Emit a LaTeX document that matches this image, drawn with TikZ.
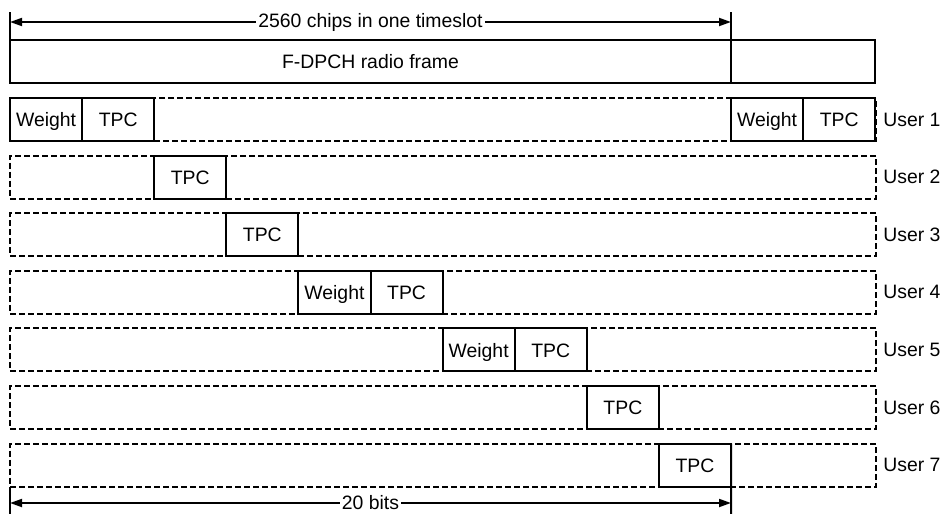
\documentclass[tikz,border=0pt]{standalone}
\usepackage{fontspec}
\setmainfont{Liberation Sans}
\usetikzlibrary{arrows.meta,positioning}
\newcommand{\dpchfont}{\fontsize{9.7}{11.6}\selectfont}
\tikzset{
  slotbox/.style={draw, line width=1pt, fill=white, outer sep=0pt, inner sep=0pt,
                  minimum width=36.05pt, minimum height=21.5pt, font=\dpchfont,
                  text height=0.72em, text depth=0pt},
  userrow/.style={draw, line width=1pt, dash pattern=on 3pt off 1.5pt, outer sep=0pt,
                  inner sep=0pt, minimum width=433pt, minimum height=21.5pt},
  framebox/.style={draw, line width=1pt, outer sep=0pt, inner sep=0pt,
                   minimum height=21.5pt, font=\dpchfont},
  userlbl/.style={font=\dpchfont, inner sep=0pt, anchor=west},
  dimline/.style={line width=0.9pt, {Triangle[length=6pt,width=4pt]}-{Triangle[length=6pt,width=4pt]}},
  tick/.style={line width=1pt},
}

\begin{document}
\begin{tikzpicture}[x=0.5pt, y=-0.5pt]
\useasboundingbox (0,0) rectangle (948,514);

% Radio frame on top
\node[framebox, minimum width=360.5pt, anchor=north west] (frame) at (10,40) {F-DPCH radio frame};
\node[framebox, minimum width=72.1pt, right=0pt of frame] (framenext) {};

% Dashed rows, one per user
\node[userrow, anchor=north west] (row1) at (10,98) {};
\node[userrow, anchor=north west] (row2) at (10,155.6) {};
\node[userrow, anchor=north west] (row3) at (10,213.2) {};
\node[userrow, anchor=north west] (row4) at (10,270.8) {};
\node[userrow, anchor=north west] (row5) at (10,328.4) {};
\node[userrow, anchor=north west] (row6) at (10,386) {};
\node[userrow, anchor=north west] (row7) at (10,443.6) {};

% Fields of each user
\node[slotbox, anchor=north west] (w1) at (10,98) {Weight};
\node[slotbox, right=0pt of w1] (t1) {TPC};
\node[slotbox, anchor=north west] (w1b) at (731,98) {Weight};
\node[slotbox, right=0pt of w1b] (t1b) {TPC};
\node[slotbox, anchor=north west] (t2) at (154.2,155.6) {TPC};
\node[slotbox, anchor=north west] (t3) at (226.3,213.2) {TPC};
\node[slotbox, anchor=north west] (w4) at (298.4,270.8) {Weight};
\node[slotbox, right=0pt of w4] (t4) {TPC};
\node[slotbox, anchor=north west] (w5) at (442.6,328.4) {Weight};
\node[slotbox, right=0pt of w5] (t5) {TPC};
\node[slotbox, anchor=north west] (t6) at (586.8,386) {TPC};
\node[slotbox, anchor=north west] (t7) at (658.9,443.6) {TPC};

% User labels
\node[userlbl, right=3.5pt of row1.east] (u1) {User 1};
\node[userlbl, right=3.5pt of row2.east] (u2) {User 2};
\node[userlbl, right=3.5pt of row3.east] (u3) {User 3};
\node[userlbl, right=3.5pt of row4.east] (u4) {User 4};
\node[userlbl, right=3.5pt of row5.east] (u5) {User 5};
\node[userlbl, right=3.5pt of row6.east] (u6) {User 6};
\node[userlbl, right=3.5pt of row7.east] (u7) {User 7};

% Timeslot length
\coordinate (topL) at (10,12);
\coordinate (topR) at (731,12);
\coordinate (chipsL) at (10,22);
\coordinate (chipsR) at (731,22);
\draw[tick] (topL) -- (frame.north west);
\draw[tick] (topR) -- (frame.south east);
\draw[dimline] (chipsL) -- node[fill=white, inner sep=1pt, font=\dpchfont] (chips) {2560 chips in one timeslot} (chipsR);

% Bits length
\coordinate (botL) at (10,514);
\coordinate (botR) at (731,514);
\coordinate (bitsL) at (10,503);
\coordinate (bitsR) at (731,503);
\draw[tick] (row7.south west) -- (botL);
\draw[tick] (t7.north east) -- (botR);
\draw[dimline] (bitsL) -- node[fill=white, inner sep=1pt, font=\dpchfont] (bits) {20 bits} (bitsR);
\end{tikzpicture}
\end{document}
